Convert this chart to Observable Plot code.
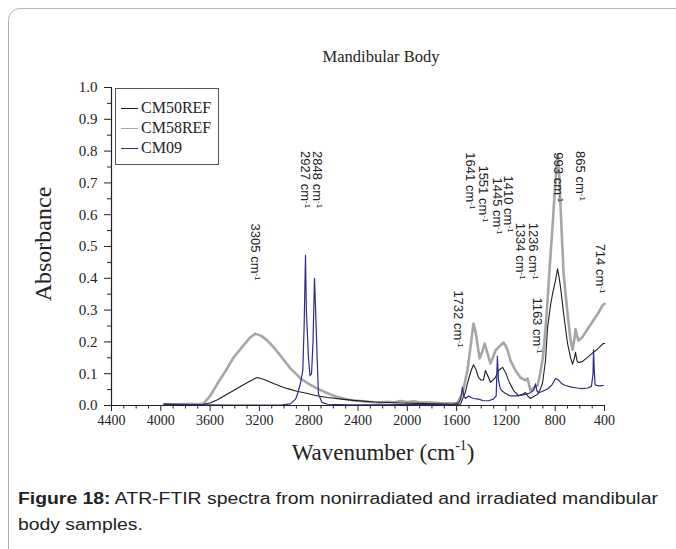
<!DOCTYPE html>
<html><head><meta charset="utf-8">
<script src="https://cdn.jsdelivr.net/npm/d3@7"></script>
<script src="https://cdn.jsdelivr.net/npm/@observablehq/plot@0.6"></script>
<style>
html,body{margin:0;padding:0;background:#fff;}
#wrap{position:relative;width:676px;height:549px;overflow:hidden;background:#fff;}
#frame{position:absolute;left:8px;top:8px;width:720px;height:620px;border:1.5px solid #b3b3b3;border-radius:12px;box-sizing:border-box;}
#chart{position:absolute;left:0;top:0;}
.serif{font-family:"Liberation Serif","Times New Roman",serif;color:#222;}
#title{position:absolute;left:0;width:762px;top:49px;text-align:center;font-size:16.5px;line-height:16.5px;}
#ytitle{position:absolute;left:43px;top:244px;font-size:24px;line-height:24px;white-space:nowrap;transform:translate(-50%,-50%) rotate(-90deg);}
#xtitle{position:absolute;left:0;width:766px;top:441px;text-align:center;font-size:23px;line-height:23px;white-space:nowrap;}
#xtitle sup{font-size:0.6em;line-height:0;vertical-align:0.75em;}
#legend{position:absolute;left:115px;top:88px;width:104px;height:77px;border:1px solid #555;box-sizing:border-box;background:#fff;}
.lrow{position:absolute;left:0;height:20px;width:100%;}
.lline{position:absolute;left:5px;width:17px;top:10px;height:0;border-top-width:1.5px;border-top-style:solid;}
.ltext{position:absolute;left:25px;top:1px;font-size:16px;line-height:18px;}
#caption{position:absolute;left:18px;top:486px;font-family:"Liberation Sans",Arial,sans-serif;font-size:16px;line-height:26px;color:#222;white-space:nowrap;}
.cl{display:inline-block;transform:scaleX(1.21);transform-origin:left center;}
</style></head>
<body>
<div id="wrap">
  <div id="frame"></div>
  <div id="chart"></div>
  <div id="title" class="serif">Mandibular Body</div>
  <div id="ytitle" class="serif">Absorbance</div>
  <div id="xtitle" class="serif">Wavenumber (cm<sup>-1</sup>)</div>
  <div id="legend" class="serif"></div>
  <div id="caption"><span class="cl"><b>Figure 18:</b> ATR-FTIR spectra from nonirradiated and irradiated mandibular</span><br><span class="cl">body samples.</span></div>
</div>
<script>
// ---- data (values read on the drawn wavenumber axis) ----
const seriesNames = ["CM50REF", "CM58REF", "CM09"];

const xTickLabels = [4400, 4000, 3600, 3200, 2800, 2400, 2000, 1600, 1200, 800, 400];
const yTickLabels = [0.0, 0.1, 0.2, 0.3, 0.4, 0.5, 0.6, 0.7, 0.8, 0.9, 1.0];

// CM58REF (grey)
const cm58Wn = [3973,3867,3760,3706,3653,3600,3540,3472,3410,3365,3329,3280,3232,3184,3135,3077,3029,2981,2948,2896,2867,2800,2729,2661,2599,2522,2437,2320,2217,2159,2106,2053,1999,1946,1893,1839,1733,1626,1593,1552,1512,1482,1463,1445,1414,1391,1373,1354,1325,1306,1285,1263,1244,1219,1199,1186,1163,1122,1082,1041,1024,1001,975,943,922,900,879,862,842,822,799,781,767,756,732,700,675,659,644,635,623,611,580,538,495,452,416,399];
const cm58Abs = [0.004,0.004,0.005,0.004,0.006,0.03,0.069,0.11,0.151,0.172,0.189,0.212,0.226,0.219,0.204,0.18,0.157,0.133,0.116,0.097,0.085,0.068,0.053,0.041,0.031,0.022,0.016,0.012,0.009,0.012,0.01,0.014,0.011,0.013,0.009,0.01,0.008,0.007,0.008,0.038,0.11,0.2,0.258,0.23,0.148,0.17,0.195,0.17,0.132,0.15,0.173,0.182,0.189,0.198,0.185,0.173,0.142,0.11,0.088,0.079,0.085,0.047,0.055,0.063,0.1,0.15,0.24,0.33,0.45,0.56,0.7,0.79,0.72,0.62,0.415,0.29,0.204,0.175,0.21,0.24,0.22,0.204,0.215,0.24,0.265,0.29,0.315,0.32];

// CM50REF (black)
const cm50Wn = [3973,3760,3653,3600,3540,3459,3410,3354,3297,3232,3216,3162,3086,3024,2972,2896,2810,2725,2647,2533,2437,2266,2053,1839,1626,1568,1552,1530,1512,1482,1463,1445,1422,1402,1382,1366,1349,1325,1306,1285,1260,1227,1203,1179,1138,1098,1066,1041,1023,1001,975,943,922,903,879,862,836,822,799,781,767,756,732,700,675,659,644,635,623,611,580,548,513,474,442,410,399];
const cm50Abs = [0.002,0.003,0.004,0.008,0.018,0.036,0.047,0.06,0.072,0.086,0.088,0.082,0.069,0.06,0.053,0.045,0.038,0.03,0.025,0.02,0.016,0.011,0.008,0.006,0.004,0.004,0.02,0.04,0.07,0.11,0.128,0.115,0.088,0.08,0.08,0.11,0.095,0.073,0.08,0.088,0.11,0.12,0.104,0.079,0.047,0.031,0.035,0.041,0.03,0.022,0.028,0.035,0.05,0.07,0.14,0.245,0.32,0.35,0.39,0.43,0.4,0.37,0.29,0.195,0.15,0.13,0.15,0.167,0.14,0.135,0.138,0.148,0.16,0.172,0.183,0.195,0.195];

// CM09 (navy)
const cm09Wn = [3973,3867,3760,3653,3440,3226,3013,2949,2906,2891,2867,2848,2837,2826,2819,2802,2789,2777,2765,2753,2744,2729,2721,2693,2647,2480,2266,2053,1839,1626,1583,1567,1553,1541,1528,1503,1482,1463,1422,1382,1341,1301,1279,1269,1260,1247,1236,1203,1163,1106,1041,1001,975,960,948,932,903,862,826,797,772,751,719,666,623,580,538,506,493,489,482,476,452,431,410];
const cm09Abs = [0.005,0.004,0.003,0.002,0.001,0.001,0.002,0.005,0.02,0.036,0.07,0.11,0.25,0.472,0.3,0.15,0.094,0.1,0.2,0.4,0.3,0.12,0.036,0.01,0.004,0.002,0.002,0.003,0.003,0.004,0.008,0.02,0.058,0.03,0.022,0.03,0.025,0.022,0.02,0.015,0.015,0.02,0.03,0.155,0.08,0.055,0.047,0.038,0.03,0.03,0.035,0.04,0.048,0.068,0.045,0.04,0.045,0.052,0.065,0.085,0.08,0.07,0.063,0.058,0.055,0.053,0.055,0.06,0.1,0.175,0.1,0.065,0.062,0.062,0.063];

// peak annotations
const peakNames = ["3305","2927","2848","1732","1641","1551","1445","1410","1334","1236","1163","993","865","714"];
const peakWn    = [3232, 2826, 2728, 1584, 1487, 1382, 1267, 1179, 1082, 976, 943, 773, 594, 432];
const peakAbs   = [0.572,0.80,0.80,0.362,0.796,0.755,0.717,0.723,0.575,0.575,0.34,0.796,0.80,0.509];

// ---- drawing ----
const colors = {"CM50REF": "#1e1e1e", "CM58REF": "#a6a6a6", "CM09": "#2c2c8c"};
const serif = '"Liberation Serif", "Times New Roman", serif';
const xMinor = d3.range(400, 4401, 100).filter(v => !xTickLabels.includes(v));
const yMinor = d3.range(0.05, 1, 0.1);

const svg = Plot.plot({
  width: 676, height: 470,
  marginLeft: 111, marginRight: 72, marginTop: 87, marginBottom: 65,
  x: {domain: [4400, 400]},
  y: {domain: [0, 1]},
  style: {fontFamily: serif, fontSize: "15px", color: "#222", background: "transparent", overflow: "visible"},
  marks: [
    Plot.line(cm58Abs, {x: cm58Wn, y: cm58Abs, stroke: colors["CM58REF"], strokeWidth: 2.6}),
    Plot.line(cm50Abs, {x: cm50Wn, y: cm50Abs, stroke: colors["CM50REF"], strokeWidth: 1.1}),
    Plot.line(cm09Abs, {x: cm09Wn, y: cm09Abs, stroke: colors["CM09"], strokeWidth: 1.2}),
    Plot.ruleY([0], {stroke: "#222", strokeWidth: 1.2}),
    Plot.ruleX([4400], {stroke: "#222", strokeWidth: 1.2}),
    Plot.axisX({ticks: xTickLabels, tickSize: 6, tickPadding: 4, tickFormat: d3.format("d"), label: null, fontSize: 14, fontFamily: serif}),
    Plot.axisX({ticks: xMinor, tickSize: 3.5, tickFormat: () => "", label: null}),
    Plot.axisY({ticks: yTickLabels, tickSize: 7, tickPadding: 7, tickFormat: d3.format(".1f"), label: null, fontSize: 15, fontFamily: serif}),
    Plot.axisY({ticks: yMinor, tickSize: 4, tickFormat: () => "", label: null}),
    Plot.text(peakNames.map(d => d + " cm-1"), {x: peakWn, y: peakAbs, text: d => d, rotate: 90, textAnchor: "start", lineAnchor: "middle", fontFamily: '"Liberation Sans", Arial, sans-serif', fontSize: 13, fill: "#222"})
  ]
});
document.getElementById("chart").appendChild(svg);

// superscript "-1" on peak labels
d3.select(svg).selectAll("text").each(function() {
  const s = this.textContent;
  if (/^\d+ cm-1$/.test(s)) {
    this.textContent = s.slice(0, -2);
    d3.select(this).append("tspan").attr("baseline-shift", "super").attr("font-size", "0.62em").text("-1");
  }
});

// legend
const legend = d3.select("#legend");
seriesNames.forEach((name, i) => {
  const row = legend.append("div").attr("class", "lrow").style("top", (9 + i * 20) + "px");
  row.append("div").attr("class", "lline").style("border-top-color", colors[name]);
  row.append("div").attr("class", "ltext").text(name);
});
</script>
</body></html>
